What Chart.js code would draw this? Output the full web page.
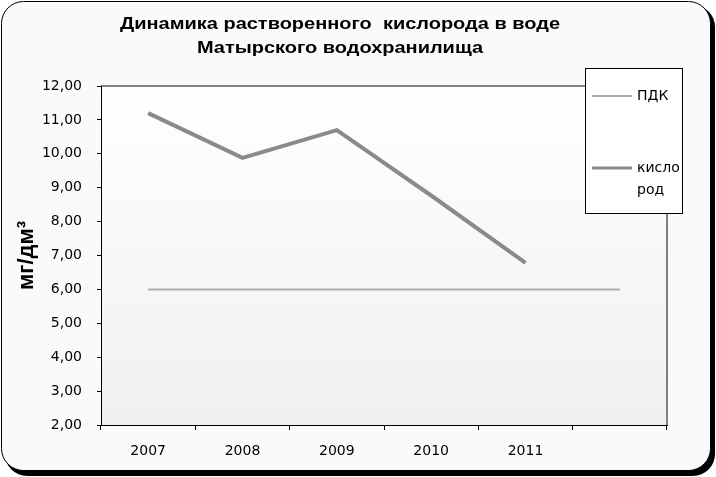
<!DOCTYPE html>
<html>
<head>
<meta charset="utf-8">
<script src="https://cdn.jsdelivr.net/npm/chart.js@4/dist/chart.umd.min.js"></script>
<style>
  html, body { margin: 0; padding: 0; background: #fff; }
  #wrap { width: 716px; height: 477px; }
</style>
</head>
<body>
<div id="wrap"><canvas id="grafico" width="716" height="477"></canvas></div>
<script>
// --- datos del gráfico ---
const anos = ['2007', '2008', '2009', '2010', '2011', ''];
const pdk = [6, 6, 6, 6, 6, 6];
const kislorod = [11.2, 9.88, 10.7, 8.77, 6.78, null];
const tituloLineas = ['Динамика растворенного  кислорода в воде', 'Матырского водохранилища'];
const ejeY = 'мг/дм³';
const leyendaLineas = [['ПДК'], ['кисло', 'род']];

const colorPDK = '#ababab';
const colorKisl = '#8a8a8a';
const fuenteTicks = '"DejaVu Sans", sans-serif';

// marco redondeado con sombra + título + fondo degradado
const marco = {
    id: 'marco',
    beforeDraw(chart) {
        const c = chart.ctx;
        c.save();
        c.fillStyle = '#fff';
        c.fillRect(0, 0, chart.width, chart.height);
        c.fillStyle = '#000';
        c.beginPath();
        c.roundRect(5, 5, 710, 471, 22);
        c.fill();
        c.beginPath();
        c.roundRect(1.5, 1.5, 709, 469, 22);
        c.fillStyle = '#fafafa';
        c.fill();
        c.strokeStyle = '#000';
        c.lineWidth = 1;
        c.stroke();

        // título algo más ancho, como en el original
        c.fillStyle = '#000';
        c.font = 'bold 17px "Liberation Sans", Arial, sans-serif';
        c.textAlign = 'center';
        c.textBaseline = 'middle';
        const k = 440 / c.measureText(tituloLineas[0]).width;
        tituloLineas.forEach((t, i) => {
            c.save();
            c.translate(340, 24 + i * 24);
            c.scale(k, 1);
            c.fillText(t, 0, 0);
            c.restore();
        });

        const a = chart.chartArea;
        const g = c.createLinearGradient(0, a.top, 0, a.bottom);
        g.addColorStop(0, '#ffffff');
        g.addColorStop(1, '#f0f0f0');
        c.fillStyle = g;
        c.fillRect(a.left, a.top, a.right - a.left, a.bottom - a.top);
        c.strokeStyle = '#808080';
        c.lineWidth = 2;
        c.beginPath();
        c.moveTo(a.left, a.top);
        c.lineTo(a.right, a.top);
        c.lineTo(a.right, a.bottom);
        c.stroke();
        c.restore();
    }
};

// leyenda en recuadro blanco
const leyenda = {
    id: 'leyenda',
    afterDraw(chart) {
        const c = chart.ctx;
        c.save();
        c.fillStyle = '#fff';
        c.fillRect(585.5, 68.5, 97, 145);
        c.strokeStyle = '#000';
        c.lineWidth = 1;
        c.strokeRect(585.5, 68.5, 97, 145);
        c.font = '14px ' + fuenteTicks;
        c.textBaseline = 'middle';
        c.fillStyle = '#000';
        const ys = [96, 168];
        const grosor = [2, 3];
        chart.data.datasets.forEach((ds, i) => {
            c.strokeStyle = ds.borderColor;
            c.lineWidth = grosor[i];
            c.beginPath();
            c.moveTo(592, ys[i]);
            c.lineTo(632, ys[i]);
            c.stroke();
            leyendaLineas[i].forEach((t, j) => c.fillText(t, 637, ys[i] + j * 22));
        });
        c.restore();
    }
};

const ctx = document.getElementById('grafico').getContext('2d');
new Chart(ctx, {
    type: 'line',
    data: {
        labels: anos,
        datasets: [
            {
                label: 'ПДК',
                data: pdk,
                borderColor: colorPDK,
                borderWidth: 2,
                pointRadius: 0,
                tension: 0
            },
            {
                label: 'кислород',
                data: kislorod,
                borderColor: colorKisl,
                borderWidth: 4,
                pointRadius: 0,
                tension: 0
            }
        ]
    },
    options: {
        responsive: false,
        animation: false,
        layout: { padding: { top: 86, right: 49, left: 0, bottom: 0 } },
        plugins: {
            legend: { display: false },
            title: { display: false },
            tooltip: { enabled: false }
        },
        scales: {
            x: {
                offset: true,
                afterFit: s => { s.height = 52; },
                grid: { offset: true, drawOnChartArea: false, tickLength: 5, color: '#000' },
                border: { color: '#000', width: 1 },
                ticks: {
                    color: '#000',
                    font: { family: fuenteTicks, size: 14 },
                    padding: 13,
                    maxRotation: 0,
                    autoSkip: false
                }
            },
            y: {
                min: 2,
                max: 12,
                afterFit: s => { s.width = 101; },
                grid: { drawOnChartArea: false, tickLength: 4, color: '#000' },
                border: { color: '#000', width: 1 },
                ticks: {
                    stepSize: 1,
                    color: '#000',
                    padding: 15,
                    font: { family: fuenteTicks, size: 14 },
                    callback: v => v.toFixed(2).replace('.', ',')
                },
                title: {
                    display: true,
                    text: ejeY,
                    color: '#000',
                    font: { family: '"Liberation Sans", Arial, sans-serif', size: 22, weight: 'bold' },
                    padding: { top: 14, bottom: 0 }
                }
            }
        }
    },
    plugins: [marco, leyenda]
});
</script>
</body>
</html>
